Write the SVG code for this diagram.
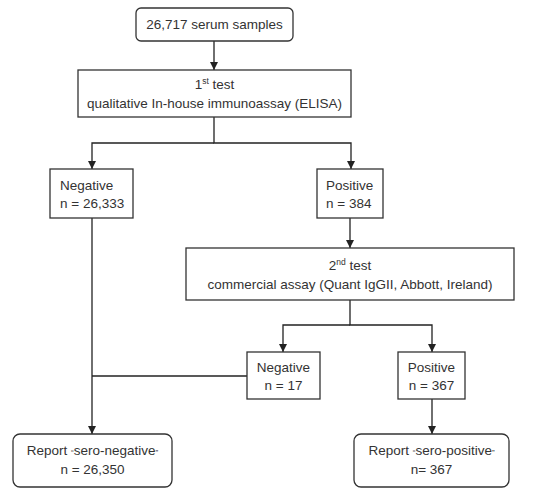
<svg xmlns="http://www.w3.org/2000/svg" width="550" height="502" viewBox="0 0 550 502">
<defs>
<style>
.box{fill:#fff;stroke:#333;stroke-width:1.3}
.t{font-family:"Liberation Sans",Arial,sans-serif;font-size:13.5px;fill:#333}
.c{text-anchor:middle}
.ln{fill:none;stroke:#222;stroke-width:1.3}
.sup{font-size:8.5px}
.q{font-size:8px}
</style>
<marker id="ah" viewBox="0 0 10 10" refX="10" refY="5" markerWidth="8" markerHeight="8" markerUnits="userSpaceOnUse" orient="auto">
<path d="M0,0 L10,5 L0,10 z" fill="#222"/>
</marker>
</defs>
<rect width="550" height="502" fill="#fff"/>
<g id="connectors">
<path class="ln" d="M214,41 V70" marker-end="url(#ah)"/>
<path class="ln" d="M214,117 V143 H351 V169"  marker-end="url(#ah)"/>
<path class="ln" d="M214,143 H92 V169" marker-end="url(#ah)"/>
<path class="ln" d="M350,218 V248" marker-end="url(#ah)"/>
<path class="ln" d="M350,300 V325 H432 V352" marker-end="url(#ah)"/>
<path class="ln" d="M350,325 H283 V352" marker-end="url(#ah)"/>
<path class="ln" d="M92,218 V434" marker-end="url(#ah)"/>
<path class="ln" d="M92,376 H247"/>
<path class="ln" d="M432,399 V434" marker-end="url(#ah)"/>
</g>
<g id="samples">
<rect class="box" x="136" y="8" width="157" height="33" rx="5"/>
<text class="t c" x="214.5" y="29">26,717 serum samples</text>
</g>
<g id="test1">
<rect class="box" x="78" y="70" width="273" height="47"/>
<text class="t c" x="214.5" y="89">1<tspan class="sup" dy="-5">st</tspan><tspan dy="5"> test</tspan></text>
<text class="t c" x="214.5" y="108">qualitative In-house immunoassay (ELISA)</text>
</g>
<g id="neg1">
<rect class="box" x="50" y="169" width="83" height="49"/>
<text class="t" x="60" y="190">Negative</text>
<text class="t" x="60" y="208">n = 26,333</text>
</g>
<g id="pos1">
<rect class="box" x="317" y="169" width="66" height="49"/>
<text class="t" x="326" y="190">Positive</text>
<text class="t" x="326" y="208">n = 384</text>
</g>
<g id="test2">
<rect class="box" x="186" y="248" width="328" height="52"/>
<text class="t c" x="350" y="270">2<tspan class="sup" dy="-5">nd</tspan><tspan dy="5"> test</tspan></text>
<text class="t c" x="350" y="289">commercial assay (Quant IgGII, Abbott, Ireland)</text>
</g>
<g id="neg2">
<rect class="box" x="247" y="352" width="73" height="47"/>
<text class="t c" x="283.5" y="372">Negative</text>
<text class="t c" x="283.5" y="390">n = 17</text>
</g>
<g id="pos2">
<rect class="box" x="398" y="352" width="67" height="47"/>
<text class="t c" x="431.5" y="372">Positive</text>
<text class="t c" x="431.5" y="390">n = 367</text>
</g>
<g id="reportneg">
<rect class="box" x="13" y="434" width="159" height="53" rx="7"/>
<text class="t c" x="92.5" y="455">Report <tspan class="q">“</tspan>sero-negative<tspan class="q">”</tspan></text>
<text class="t c" x="92.5" y="474">n = 26,350</text>
</g>
<g id="reportpos">
<rect class="box" x="354" y="434" width="155" height="53" rx="7"/>
<text class="t c" x="431.5" y="455">Report <tspan class="q">“</tspan>sero-positive<tspan class="q">”</tspan></text>
<text class="t c" x="431.5" y="474">n= 367</text>
</g>
</svg>
